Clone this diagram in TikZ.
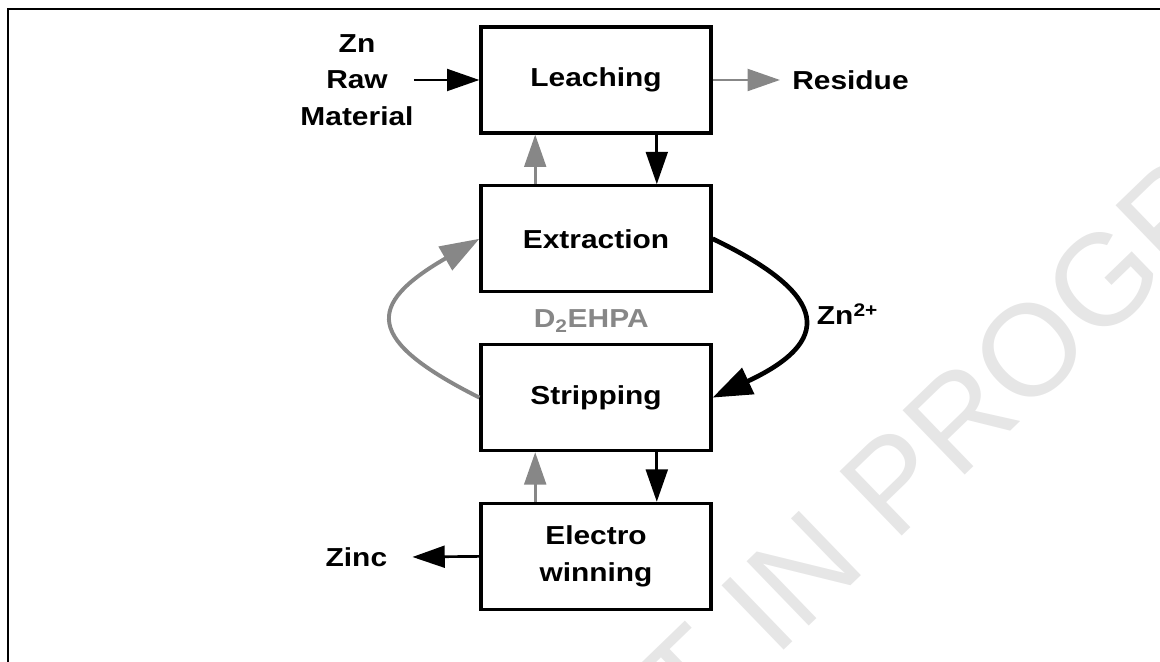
\documentclass[tikz,border=0pt]{standalone}
\usepackage{fontspec}
\setmainfont{Liberation Sans}[FakeStretch=1.15]
\newfontfamily\fuenteMarca{Liberation Sans}
\usepackage{tikz}
\usetikzlibrary{positioning,arrows.meta}
\definecolor{colFlujoGris}{HTML}{878787}
\definecolor{colMarcaAgua}{HTML}{E6E6E6}
\tikzset{
    caja/.style={draw, line width=2.3pt, minimum width=5.75cm, minimum height=2.65cm, align=center},
    flecha/.style={-{Triangle[length=23pt,width=15.5pt]}, line width=1.9pt},
    flechaGris/.style={flecha, color=colFlujoGris},
    curvaNegra/.style={-{Triangle[length=28pt,width=20pt]}, line width=3.3pt},
    curvaGris/.style={-{Triangle[length=28pt,width=19pt]}, line width=2.8pt, color=colFlujoGris}
}

\begin{document}
\begin{tikzpicture}[font=\fontsize{18.5}{26}\selectfont\bfseries]
    \useasboundingbox (0,0) rectangle (29,16.55);
    \clip (0,0) rectangle (29,16.55);

    % Marca de agua
    \node[rotate=44, anchor=base west, inner sep=0, text=colMarcaAgua, font=\fuenteMarca\fontsize{92.5}{92.5}\selectfont] (marca) at (17.3,-1.925) {T IN PROGR};

    % Marco
    \draw[line width=2pt] (0.2,-1) -- (0.2,16.325) -- (30,16.325);

    % Etapas del proceso
    \node[caja] (leach) at (14.9,14.55) {Leaching};
    \node[caja] (extr) at (14.9,10.58) {Extraction};
    \node[caja] (strip) at (14.9,6.61) {Stripping};
    \node[caja] (elec) at (14.9,2.64) {Electro\\winning};

    % Entradas y salidas
    \node[align=center, inner sep=0] (raw) at (8.925,14.55) {Zn\\Raw\\Material};
    \node[anchor=west, inner sep=0] (residue) at (19.8,14.55) {Residue};
    \node[inner sep=0] (zinc) at (8.91,2.625) {Zinc};

    \draw[flecha] (raw.east |- leach.west) -- (leach.west);
    \draw[flechaGris] (leach.east) -- ([xshift=-0.3cm]residue.west);
    \draw[flecha] (elec.west) -- ([xshift=0.625cm]zinc.east);

    % Flujos verticales
    \draw[flecha] ([xshift=1.52cm]leach.south) -- ([xshift=1.52cm]extr.north);
    \draw[flechaGris] ([xshift=-1.52cm]extr.north) -- ([xshift=-1.52cm]leach.south);
    \draw[flecha] ([xshift=1.52cm]strip.south) -- ([xshift=1.52cm]elec.north);
    \draw[flechaGris] ([xshift=-1.52cm]elec.north) -- ([xshift=-1.52cm]strip.south);

    % Ciclo del extractante
    \draw[curvaNegra] (extr.east) .. controls (20.8,9.15) and (20.8,8.0) .. (strip.east);
    \draw[curvaGris] (strip.west) .. controls (9.125,8.05) and (9.125,8.925) .. (extr.west);
    \node[anchor=base west] (zn) at (20.3,8.425) {Zn\textsuperscript{2+}};
    \node[anchor=base, text=colFlujoGris] (dehpa) at (14.78,8.35) {D\textsubscript{2}EHPA};
\end{tikzpicture}
\end{document}
